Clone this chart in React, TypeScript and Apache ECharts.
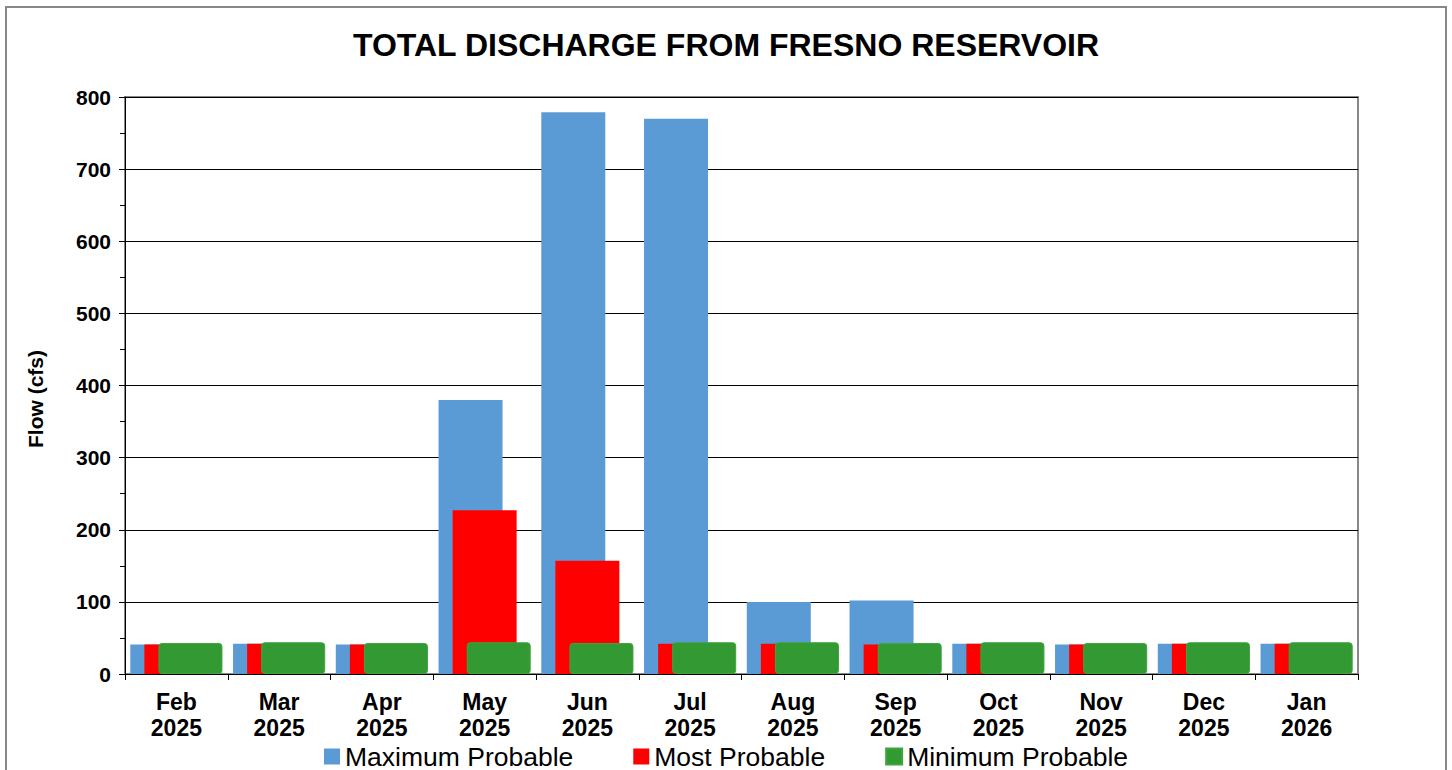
import React, { useEffect, useRef } from "react";
import * as echarts from "echarts";

const categories = ["Feb\n2025", "Mar\n2025", "Apr\n2025", "May\n2025", "Jun\n2025", "Jul\n2025", "Aug\n2025", "Sep\n2025", "Oct\n2025", "Nov\n2025", "Dec\n2025", "Jan\n2026"];
const maxProbable = [41, 42, 41, 380, 779, 770, 100, 102, 42, 41, 42, 42];
const mostProbable = [41, 42, 41, 227, 157, 42, 42, 41, 42, 41, 42, 42];
const minProbable = [43, 44, 43, 44, 43, 44, 44, 43, 44, 43, 44, 44];
const seriesNames = ["Maximum Probable", "Most Probable", "Minimum Probable"];
const titleText = "TOTAL DISCHARGE FROM FRESNO RESERVOIR";
const yAxisTitle = "Flow (cfs)";

const FONT = "'Liberation Sans', Arial, sans-serif";

export default function App() {
  const ref = useRef<HTMLDivElement>(null);
  useEffect(() => {
    if (!ref.current) return;
    const chart = echarts.init(ref.current, undefined, { renderer: "svg" });
    chart.setOption({
      animation: false,
      backgroundColor: "#ffffff",
      textStyle: { fontFamily: FONT },
      title: {
        text: titleText,
        left: "center",
        top: 24,
        textStyle: { fontFamily: FONT, fontSize: 32, fontWeight: "bold", color: "#000" },
      },
      graphic: [
        {
          type: "rect",
          shape: { x: 6, y: 7, width: 1440, height: 800 },
          style: { fill: "none", stroke: "#888", lineWidth: 2 },
          silent: true,
        },
        {
          type: "text",
          x: 35,
          y: 399,
          rotation: Math.PI / 2,
          style: {
            text: yAxisTitle,
            fontFamily: FONT,
            fontSize: 21,
            fontWeight: "bold",
            fill: "#000",
            align: "center",
            verticalAlign: "middle",
          },
          silent: true,
        },
      ],
      legend: {
        data: seriesNames,
        left: 324,
        top: 743,
        icon: "rect",
        itemWidth: 16,
        itemHeight: 16,
        itemGap: 60,
        padding: 0,
        textStyle: { fontFamily: FONT, fontSize: 26.5, color: "#000" },
      },
      grid: {
        left: 125,
        top: 97,
        right: 94,
        bottom: 96,
        show: true,
        borderColor: "#888",
        borderWidth: 2,
      },
      xAxis: {
        type: "category",
        data: categories,
        axisLine: { show: true, lineStyle: { color: "#000", width: 1 } },
        axisTick: { show: true, alignWithLabel: false, interval: 0, length: 6, lineStyle: { color: "#000" } },
        axisLabel: {
          interval: 0,
          fontFamily: FONT,
          fontSize: 23,
          fontWeight: "bold",
          color: "#000",
          lineHeight: 26,
          margin: 15,
        },
      },
      yAxis: {
        type: "value",
        min: 0,
        max: 800,
        interval: 100,
        axisLine: { show: true, lineStyle: { color: "#000", width: 1 } },
        axisTick: { show: true, length: 6, lineStyle: { color: "#000" } },
        minorTick: { show: true, splitNumber: 2, length: 5, lineStyle: { color: "#000" } },
        axisLabel: { fontFamily: FONT, fontSize: 21, fontWeight: "bold", color: "#000", margin: 14 },
        splitLine: { show: true, lineStyle: { color: "#000", width: 1 } },
      },
      series: [
        {
          name: seriesNames[0],
          type: "bar",
          data: maxProbable,
          barWidth: 64,
          barGap: "-78%",
          itemStyle: { color: "#5B9BD5" },
        },
        {
          name: seriesNames[1],
          type: "bar",
          data: mostProbable,
          barWidth: 64,
          barGap: "-78%",
          itemStyle: { color: "#FF0000" },
        },
        {
          name: seriesNames[2],
          type: "bar",
          data: minProbable,
          barWidth: 64,
          barGap: "-78%",
          itemStyle: { color: "#339933", borderColor: "#3FA53F", borderWidth: 1, borderRadius: 3 },
        },
      ],
    });
    return () => chart.dispose();
  }, []);
  return (
    <div
      ref={ref}
      style={{ position: "absolute", left: 0, top: 0, width: 1452, height: 770 }}
    />
  );
}
